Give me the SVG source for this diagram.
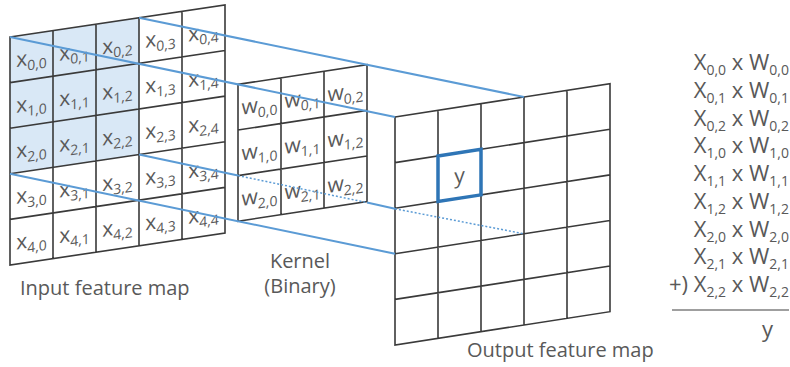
<svg xmlns="http://www.w3.org/2000/svg" width="790" height="367" viewBox="0 0 790 367">
  <style>
    .grid { fill: none; stroke: #3a3a3a; stroke-width: 1.6; vector-effect: non-scaling-stroke; }
    .face { fill: #ffffff; stroke: none; }
    .shade { fill: #d9e8f6; stroke: none; }
    .cell { font-family: "Open Sans", "Noto Sans", sans-serif; font-size: 21px; fill: #595959; text-anchor: middle; }
    .sub { font-size: 14px; }
    .label { font-family: "Open Sans", "Noto Sans", sans-serif; font-size: 20px; fill: #595959; }
    .eq { font-family: "Open Sans", "Noto Sans", sans-serif; font-size: 22px; fill: #595959; text-anchor: end; }
    .esub { font-size: 14px; }
    .ray { fill: none; stroke: #5b9bd5; stroke-width: 2; }
    .hidden { fill: none; stroke: #5b9bd5; stroke-width: 1.5; stroke-dasharray: 2 2; }
    .focus { fill: none; stroke: #2e75b6; stroke-width: 3.5; vector-effect: non-scaling-stroke; }
  </style>

  <!-- input feature map: 5x5 grid, 3x3 receptive field shaded -->
  <g id="input-map" transform="matrix(1,-0.149,0,1,10,37)">
    <rect class="face" x="0" y="0" width="215" height="228"/>
    <rect class="shade" x="0" y="0" width="129" height="136.8"/>
    <path class="grid" d="M0 0H215V228H0Z M43 0V228 M86 0V228 M129 0V228 M172 0V228 M0 45.6H215 M0 91.2H215 M0 136.8H215 M0 182.4H215"/>
    <text class="cell" x="21.5" y="31">x<tspan class="sub" dy="5">0,0</tspan></text>
    <text class="cell" x="64.5" y="31">x<tspan class="sub" dy="5">0,1</tspan></text>
    <text class="cell" x="107.5" y="31">x<tspan class="sub" dy="5">0,2</tspan></text>
    <text class="cell" x="150.5" y="31">x<tspan class="sub" dy="5">0,3</tspan></text>
    <text class="cell" x="193.5" y="31">x<tspan class="sub" dy="5">0,4</tspan></text>
    <text class="cell" x="21.5" y="76.6">x<tspan class="sub" dy="5">1,0</tspan></text>
    <text class="cell" x="64.5" y="76.6">x<tspan class="sub" dy="5">1,1</tspan></text>
    <text class="cell" x="107.5" y="76.6">x<tspan class="sub" dy="5">1,2</tspan></text>
    <text class="cell" x="150.5" y="76.6">x<tspan class="sub" dy="5">1,3</tspan></text>
    <text class="cell" x="193.5" y="76.6">x<tspan class="sub" dy="5">1,4</tspan></text>
    <text class="cell" x="21.5" y="122.2">x<tspan class="sub" dy="5">2,0</tspan></text>
    <text class="cell" x="64.5" y="122.2">x<tspan class="sub" dy="5">2,1</tspan></text>
    <text class="cell" x="107.5" y="122.2">x<tspan class="sub" dy="5">2,2</tspan></text>
    <text class="cell" x="150.5" y="122.2">x<tspan class="sub" dy="5">2,3</tspan></text>
    <text class="cell" x="193.5" y="122.2">x<tspan class="sub" dy="5">2,4</tspan></text>
    <text class="cell" x="21.5" y="167.8">x<tspan class="sub" dy="5">3,0</tspan></text>
    <text class="cell" x="64.5" y="167.8">x<tspan class="sub" dy="5">3,1</tspan></text>
    <text class="cell" x="107.5" y="167.8">x<tspan class="sub" dy="5">3,2</tspan></text>
    <text class="cell" x="150.5" y="167.8">x<tspan class="sub" dy="5">3,3</tspan></text>
    <text class="cell" x="193.5" y="167.8">x<tspan class="sub" dy="5">3,4</tspan></text>
    <text class="cell" x="21.5" y="213.4">x<tspan class="sub" dy="5">4,0</tspan></text>
    <text class="cell" x="64.5" y="213.4">x<tspan class="sub" dy="5">4,1</tspan></text>
    <text class="cell" x="107.5" y="213.4">x<tspan class="sub" dy="5">4,2</tspan></text>
    <text class="cell" x="150.5" y="213.4">x<tspan class="sub" dy="5">4,3</tspan></text>
    <text class="cell" x="193.5" y="213.4">x<tspan class="sub" dy="5">4,4</tspan></text>
  </g>

  <!-- binary kernel: 3x3 weights -->
  <g id="kernel" transform="matrix(1,-0.152,0,1,238,84.4)">
    <rect class="face" x="0" y="0" width="129" height="136.8"/>
    <path class="grid" d="M0 0H129V136.8H0Z M43 0V136.8 M86 0V136.8 M0 45.6H129 M0 91.2H129"/>
    <text class="cell" x="21.5" y="31">w<tspan class="sub" dy="5">0,0</tspan></text>
    <text class="cell" x="64.5" y="31">w<tspan class="sub" dy="5">0,1</tspan></text>
    <text class="cell" x="107.5" y="31">w<tspan class="sub" dy="5">0,2</tspan></text>
    <text class="cell" x="21.5" y="76.6">w<tspan class="sub" dy="5">1,0</tspan></text>
    <text class="cell" x="64.5" y="76.6">w<tspan class="sub" dy="5">1,1</tspan></text>
    <text class="cell" x="107.5" y="76.6">w<tspan class="sub" dy="5">1,2</tspan></text>
    <text class="cell" x="21.5" y="122.2">w<tspan class="sub" dy="5">2,0</tspan></text>
    <text class="cell" x="64.5" y="122.2">w<tspan class="sub" dy="5">2,1</tspan></text>
    <text class="cell" x="107.5" y="122.2">w<tspan class="sub" dy="5">2,2</tspan></text>
  </g>

  <!-- output feature map: 5x5 grid with the computed cell outlined -->
  <g id="output-map" transform="matrix(1,-0.155,0,1,395,117)">
    <rect class="face" x="0" y="0" width="215" height="228"/>
    <path class="grid" d="M0 0H215V228H0Z M43 0V228 M86 0V228 M129 0V228 M172 0V228 M0 45.6H215 M0 91.2H215 M0 136.8H215 M0 182.4H215"/>
    <rect class="focus" x="43" y="45.6" width="43" height="45.6"/>
    <text class="cell" x="64.5" y="76">y</text>
  </g>

  <!-- projection rays from the receptive field through the kernel to the output -->
  <g id="connectors">
    <line class="ray" x1="139" y1="17.8" x2="524" y2="97"/>
    <line class="ray" x1="10" y1="37" x2="395" y2="117"/>
    <line class="ray" x1="139" y1="154.6" x2="238" y2="175.6"/>
    <line class="hidden" x1="238" y1="175.6" x2="367" y2="202.6"/>
    <line class="ray" x1="367" y1="202.6" x2="395" y2="208.8"/>
    <line class="hidden" x1="395" y1="208.8" x2="524" y2="233.8"/>
    <line class="ray" x1="10" y1="173.8" x2="395" y2="253.8"/>
  </g>

  <!-- captions -->
  <g id="labels">
    <text class="label" x="20" y="295">Input feature map</text>
    <text class="label" x="300" y="268" text-anchor="middle">Kernel</text>
    <text class="label" x="300" y="293" text-anchor="middle">(Binary)</text>
    <text class="label" x="467" y="357">Output feature map</text>
  </g>

  <!-- sum of products -->
  <g id="equation">
    <text class="eq" x="789" y="70">X<tspan class="esub" dy="5">0,0</tspan><tspan dy="-5"> x W</tspan><tspan class="esub" dy="5">0,0</tspan></text>
    <text class="eq" x="789" y="97.75">X<tspan class="esub" dy="5">0,1</tspan><tspan dy="-5"> x W</tspan><tspan class="esub" dy="5">0,1</tspan></text>
    <text class="eq" x="789" y="125.5">X<tspan class="esub" dy="5">0,2</tspan><tspan dy="-5"> x W</tspan><tspan class="esub" dy="5">0,2</tspan></text>
    <text class="eq" x="789" y="153.25">X<tspan class="esub" dy="5">1,0</tspan><tspan dy="-5"> x W</tspan><tspan class="esub" dy="5">1,0</tspan></text>
    <text class="eq" x="789" y="181">X<tspan class="esub" dy="5">1,1</tspan><tspan dy="-5"> x W</tspan><tspan class="esub" dy="5">1,1</tspan></text>
    <text class="eq" x="789" y="208.75">X<tspan class="esub" dy="5">1,2</tspan><tspan dy="-5"> x W</tspan><tspan class="esub" dy="5">1,2</tspan></text>
    <text class="eq" x="789" y="236.5">X<tspan class="esub" dy="5">2,0</tspan><tspan dy="-5"> x W</tspan><tspan class="esub" dy="5">2,0</tspan></text>
    <text class="eq" x="789" y="264.25">X<tspan class="esub" dy="5">2,1</tspan><tspan dy="-5"> x W</tspan><tspan class="esub" dy="5">2,1</tspan></text>
    <text class="eq" x="789" y="292">+) X<tspan class="esub" dy="5">2,2</tspan><tspan dy="-5"> x W</tspan><tspan class="esub" dy="5">2,2</tspan></text>
    <line x1="672" y1="310" x2="789" y2="310" stroke="#7f7f7f" stroke-width="1.5"/>
    <text class="eq" x="773" y="337">y</text>
  </g>
</svg>
